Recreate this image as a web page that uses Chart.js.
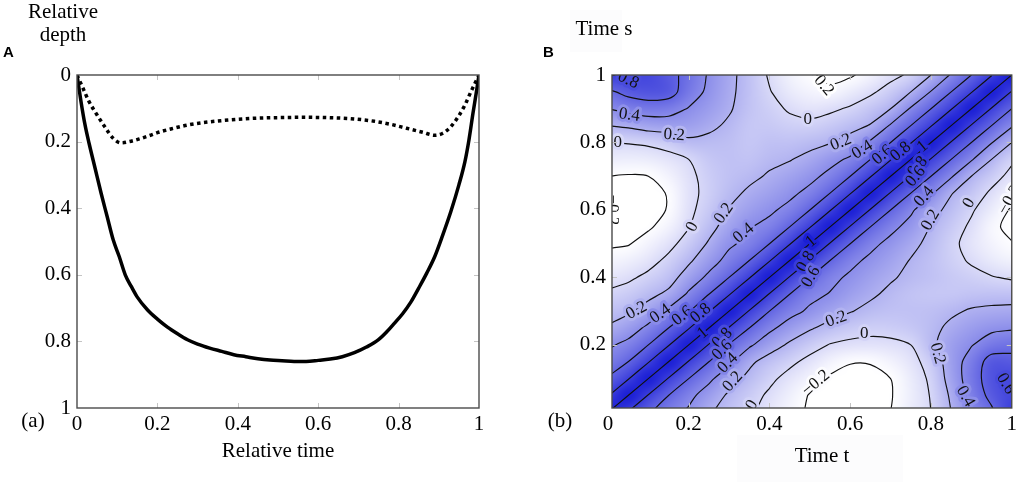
<!DOCTYPE html>
<html><head><meta charset="utf-8">
<script src="https://cdn.jsdelivr.net/npm/chart.js@4.4.1/dist/chart.umd.min.js"></script>
<style>
html,body{margin:0;padding:0;background:#fff;width:1021px;height:482px;overflow:hidden;}
#wrapA{position:absolute;left:0;top:0;width:520px;height:482px;}
#wrapB{position:absolute;left:520px;top:0;width:501px;height:482px;}
.t{position:absolute;font-family:'Liberation Serif',serif;font-size:21px;line-height:21px;color:#000;white-space:nowrap;}
.c{transform:translateX(-50%);}
.p{position:absolute;font-family:'Liberation Sans',Arial,sans-serif;font-weight:bold;font-size:15px;line-height:15px;color:#000;}
.box{position:absolute;background:#fcfcfd;}
</style></head><body>
<div class="box" style="left:570px;top:10px;width:52px;height:42px"></div>
<div class="box" style="left:737px;top:435px;width:166px;height:47px"></div>
<div id="wrapA"><canvas id="chartA" width="520" height="482"></canvas></div>
<div id="wrapB"><canvas id="chartB" width="501" height="482"></canvas></div>
<div class="p" style="left:3px;top:44px">A</div>
<div class="p" style="left:543px;top:44px">B</div>
<div class="t c" style="left:63px;top:0px;line-height:23px;text-align:center">Relative<br>depth</div>
<div class="t c" style="left:278px;top:440px">Relative time</div>
<div class="t c" style="left:33px;top:410px">(a)</div>
<div class="t c" style="left:604px;top:18px">Time s</div>
<div class="t c" style="left:822px;top:445px">Time t</div>
<div class="t c" style="left:560px;top:410px">(b)</div>
<script>
// ---------- Panel A data ----------
const solidTime  = [0,0.01,0.02,0.03,0.045,0.06,0.075,0.09,0.105,0.12,0.135,0.15,0.175,0.2,0.225,0.25,0.275,0.3,0.33,0.36,0.39,0.42,0.45,0.48,0.51,0.54,0.57,0.6,0.63,0.66,0.69,0.72,0.75,0.77,0.79,0.81,0.83,0.85,0.87,0.89,0.91,0.93,0.95,0.965,0.975,0.985,0.993,1];
const solidDepth = [0,0.08,0.15,0.205,0.28,0.355,0.425,0.495,0.545,0.6,0.635,0.667,0.705,0.733,0.757,0.777,0.795,0.808,0.82,0.83,0.84,0.846,0.852,0.856,0.858,0.86,0.86,0.857,0.853,0.846,0.834,0.817,0.795,0.772,0.745,0.717,0.683,0.64,0.595,0.545,0.48,0.41,0.33,0.26,0.195,0.115,0.055,0];
const dottedTime  = [0,0.015,0.03,0.05,0.07,0.09,0.11,0.13,0.155,0.18,0.2,0.24,0.28,0.32,0.36,0.4,0.44,0.5,0.56,0.62,0.68,0.74,0.78,0.82,0.86,0.89,0.91,0.93,0.95,0.965,0.98,0.99,1];
const dottedDepth = [0,0.04,0.08,0.12,0.157,0.19,0.204,0.2,0.192,0.182,0.173,0.16,0.149,0.142,0.137,0.133,0.13,0.128,0.127,0.128,0.131,0.139,0.148,0.16,0.172,0.181,0.175,0.155,0.122,0.09,0.05,0.025,0];
const tickValues = [0,0.2,0.4,0.6,0.8,1];
const tickValuesS = [0.2,0.4,0.6,0.8,1];

// ---------- Panel B data ----------
const gridTimes = [0,0.05,0.1,0.15,0.2,0.25,0.3,0.35,0.4,0.45,0.5,0.55,0.6,0.65,0.7,0.75,0.8,0.85,0.9,0.95,1];
// row j = time s (gridTimes[j]); entries = values for time t = gridTimes[0..j] (surface is symmetric in s,t)
const corrRows = [
 [1],
 [0.79,1],
 [0.62,0.79,1],
 [0.47,0.6,0.79,1],
 [0.37,0.45,0.6,0.79,1],
 [0.22,0.31,0.44,0.6,0.79,1],
 [0.12,0.17,0.28,0.44,0.59,0.79,1],
 [0.03,0.07,0.15,0.24,0.43,0.6,0.79,1],
 [-0.07,-0.03,0.04,0.12,0.29,0.44,0.6,0.79,1],
 [-0.15,-0.12,-0.06,0.04,0.17,0.32,0.46,0.6,0.79,1],
 [-0.22,-0.21,-0.14,-0.05,0.07,0.22,0.37,0.45,0.6,0.79,1],
 [-0.27,-0.26,-0.22,-0.14,-0.01,0.14,0.28,0.39,0.45,0.6,0.79,1],
 [-0.29,-0.29,-0.26,-0.19,-0.04,0.08,0.21,0.3,0.37,0.45,0.6,0.79,1],
 [-0.27,-0.27,-0.25,-0.19,-0.05,0.05,0.15,0.23,0.29,0.36,0.45,0.6,0.79,1],
 [-0.2,-0.21,-0.2,-0.14,-0.04,0.06,0.12,0.16,0.22,0.28,0.35,0.45,0.6,0.79,1],
 [-0.1,-0.11,-0.1,-0.06,0.0,0.09,0.12,0.11,0.16,0.19,0.25,0.34,0.43,0.6,0.79,1],
 [0.0,0.01,0.03,0.07,0.16,0.15,0.13,0.09,0.12,0.12,0.15,0.19,0.27,0.43,0.6,0.79,1],
 [0.2,0.23,0.28,0.3,0.3,0.24,0.17,0.09,0.08,0.05,0.04,0.08,0.14,0.21,0.42,0.6,0.79,1],
 [0.4,0.46,0.5,0.48,0.39,0.31,0.22,0.11,0.05,-0.02,-0.06,-0.03,0.02,0.1,0.2,0.42,0.6,0.79,1],
 [0.56,0.66,0.7,0.68,0.5,0.36,0.24,0.12,0.01,-0.09,-0.14,-0.16,-0.1,-0.03,0.07,0.2,0.41,0.6,0.79,1],
 [0.82,0.76,0.76,0.66,0.54,0.38,0.25,0.12,-0.02,-0.13,-0.19,-0.25,-0.22,-0.14,-0.05,0.03,0.2,0.42,0.6,0.79,1]
];
const contourLevels = [-0.2,0,0.2,0.4,0.6,0.8];
const ridgeLevel = 1;
// contour labels: [t, s, text, rotation deg]
const contourLabels = [
 [0.05,0.985,'0.8',25],[0.053,0.881,'0.4',8],[0.164,0.822,'0.2',4],[0.024,0.8,'0',0],
 [0.012,0.6,'\u22120.2',90],[0.209,0.55,'0',-62],[0.287,0.59,'0.2',-55],[0.336,0.531,'0.4',-40],
 [0.071,0.302,'0.2',-28],[0.13,0.292,'0.4',-35],[0.184,0.286,'0.6',-38],[0.23,0.294,'0.8',-40],
 [0.235,0.235,'1',-40],[0.283,0.22,'0.8',-45],[0.283,0.185,'0.6',-45],[0.297,0.146,'0.4',-45],
 [0.309,0.091,'0.2',-48],[0.357,0.022,'0',-60],[0.515,0.087,'\u22120.2',-40],[0.635,0.235,'0',0],
 [0.565,0.276,'0.2',-20],[0.816,0.175,'0.2',75],[0.885,0.047,'0.4',60],[0.985,0.085,'0.6',60],
 [0.503,0.506,'1',-40],[0.49,0.447,'0.8',-60],[0.503,0.402,'0.6',-60],[0.577,0.8,'0.2',-22],
 [0.63,0.778,'0.4',-32],[0.68,0.763,'0.6',-40],[0.725,0.773,'0.8',-40],[0.779,0.788,'1',-40],
 [0.767,0.728,'0.8',-50],[0.762,0.699,'0.6',-50],[0.783,0.64,'0.4',-50],[0.799,0.57,'0.2',-60],
 [0.495,0.867,'0',0],[0.527,0.98,'\u22120.2',50],[0.894,0.62,'0',-60],[0.995,0.63,'\u22120.2',-60]
];

// ---------- helpers ----------
const fmt = v => String(Math.round(v*10)/10);
const N = gridTimes.length;
const M = [];
for (let j=0;j<N;j++){ M.push([]); for (let i=0;i<N;i++) M[j].push(i<=j ? corrRows[j][i] : corrRows[i][j]); }
const VMIN=-0.2, VMAX=1.0, C1=[20,24,212];
function heatRGB(v){ const f=Math.max(0,Math.min(1,(v-VMIN)/(VMAX-VMIN))); return [0,1,2].map(k=>Math.round(255-f*(255-C1[k]))); }
function sample(t,s){
  const st=gridTimes[1]-gridTimes[0];
  let fi=Math.max(0,Math.min(N-1.0001,t/st)), fj=Math.max(0,Math.min(N-1.0001,s/st));
  const i=Math.floor(fi), j=Math.floor(fj), u=fi-i, w=fj-j;
  return M[j][i]*(1-u)*(1-w)+M[j][i+1]*u*(1-w)+M[j+1][i]*(1-u)*w+M[j+1][i+1]*u*w;
}
function traceContours(L){
  const pts={}, adj={};
  const P=(type,i,j)=>{ const k=type+i+'_'+j; if(!pts[k]){ let v1,v2,x1,x2,y1,y2;
      if(type==='h'){v1=M[j][i];v2=M[j][i+1];x1=gridTimes[i];x2=gridTimes[i+1];y1=y2=gridTimes[j];}
      else {v1=M[j][i];v2=M[j+1][i];x1=x2=gridTimes[i];y1=gridTimes[j];y2=gridTimes[j+1];}
      const f=(L-v1)/(v2-v1); pts[k]={x:x1+f*(x2-x1),y:y1+f*(y2-y1)}; } return k; };
  const link=(a,b)=>{(adj[a]=adj[a]||[]).push(b);(adj[b]=adj[b]||[]).push(a);};
  for(let j=0;j<N-1;j++) for(let i=0;i<N-1;i++){
    const a=M[j][i],b=M[j][i+1],c=M[j+1][i+1],d=M[j+1][i];
    const ia=a>=L,ib=b>=L,ic=c>=L,id=d>=L;
    const B=ia!==ib?P('h',i,j):null, R=ib!==ic?P('v',i+1,j):null, T=id!==ic?P('h',i,j+1):null, Le=ia!==id?P('v',i,j):null;
    const cr=[B,R,T,Le].filter(x=>x!==null);
    if(cr.length===2) link(cr[0],cr[1]);
    else if(cr.length===4){ const cen=(a+b+c+d)/4>=L; if(ia===cen){link(B,R);link(T,Le);} else {link(Le,B);link(R,T);} }
  }
  const used=new Set(), lines=[];
  const ek=(a,b)=>a<b?a+'|'+b:b+'|'+a;
  const free=k=>adj[k].some(nb=>!used.has(ek(k,nb)));
  const walk=s=>{ const line=[s]; let cur=s; for(;;){ let nx=null; for(const nb of adj[cur]){ const e=ek(cur,nb); if(!used.has(e)){used.add(e);nx=nb;break;} } if(nx===null)break; line.push(nx); cur=nx; } return line; };
  const keys=Object.keys(adj);
  for(const k of keys) if(adj[k].length===1 && free(k)) lines.push(walk(k));
  for(const k of keys) while(free(k)) lines.push(walk(k));
  return lines.map(l=>{ const out=[]; for(const k of l){ const p=pts[k]; const q=out[out.length-1]; if(!q||Math.hypot(p.x-q.x,p.y-q.y)>0.004) out.push({x:p.x,y:p.y}); } if(out.length===1){const p=pts[l[l.length-1]]; out.push({x:p.x,y:p.y});} return out; });
}

// ---------- plugins ----------
function innerTicks(chart, xVals, yVals){
  const {ctx, chartArea:a, scales} = chart;
  ctx.save(); ctx.strokeStyle='#c4c4c4'; ctx.lineWidth=1;
  xVals.forEach(v=>{ const px=Math.round(scales.x.getPixelForValue(v))+0.5; if(px<a.left+3||px>a.right-3) return;
    ctx.beginPath(); ctx.moveTo(px,a.top); ctx.lineTo(px,a.top+5); ctx.moveTo(px,a.bottom); ctx.lineTo(px,a.bottom-5); ctx.stroke(); });
  yVals.forEach(v=>{ const py=Math.round(scales.y.getPixelForValue(v))+0.5; if(py<a.top+3||py>a.bottom-3) return;
    ctx.beginPath(); ctx.moveTo(a.left,py); ctx.lineTo(a.left+5,py); ctx.moveTo(a.right,py); ctx.lineTo(a.right-5,py); ctx.stroke(); });
  ctx.strokeStyle='#4a4a4a'; ctx.lineWidth=1.4;
  ctx.strokeRect(a.left, a.top, a.right-a.left, a.bottom-a.top);
  ctx.restore();
}
const frameA = { id:'frameA', afterDraw(chart){ innerTicks(chart, tickValues, tickValues); } };
const frameB = { id:'frameB', afterDraw(chart){ innerTicks(chart, tickValues, tickValues); } };

const heatPlugin = { id:'heat', beforeDatasetsDraw(chart){
  const cells = chart.data.datasets[0].data;
  const xs=chart.scales.x, ys=chart.scales.y, a=chart.chartArea, ctx=chart.ctx;
  const off=document.createElement('canvas'); off.width=N+2; off.height=N+2;
  const octx=off.getContext('2d'); const img=octx.createImageData(N+2,N+2);
  for(let jj=0;jj<N+2;jj++) for(let ii=0;ii<N+2;ii++){
    const i=Math.max(0,Math.min(N-1,ii-1)), j=Math.max(0,Math.min(N-1,N-jj));
    const rgb=heatRGB(cells[j*N+i].v); const o=(jj*(N+2)+ii)*4;
    img.data[o]=rgb[0]; img.data[o+1]=rgb[1]; img.data[o+2]=rgb[2]; img.data[o+3]=255;
  }
  octx.putImageData(img,0,0);
  const x0=xs.getPixelForValue(gridTimes[0]), x1=xs.getPixelForValue(gridTimes[N-1]);
  const y0=ys.getPixelForValue(gridTimes[0]), y1=ys.getPixelForValue(gridTimes[N-1]);
  const cw=(x1-x0)/(N-1), ch=(y0-y1)/(N-1);
  ctx.save(); ctx.beginPath(); ctx.rect(a.left,a.top,a.right-a.left,a.bottom-a.top); ctx.clip();
  ctx.imageSmoothingEnabled=true; ctx.imageSmoothingQuality='high';
  ctx.drawImage(off, x0-1.5*cw, y1-1.5*ch, (N+2)*cw, (N+2)*ch);
  ctx.restore();
}};
const labelPlugin = { id:'clabels', afterDatasetsDraw(chart){
  const xs=chart.scales.x, ys=chart.scales.y, a=chart.chartArea, ctx=chart.ctx;
  ctx.save(); ctx.beginPath(); ctx.rect(a.left,a.top,a.right-a.left,a.bottom-a.top); ctx.clip();
  ctx.font="17px 'Liberation Serif'"; ctx.textAlign='center'; ctx.textBaseline='middle'; ctx.lineJoin='round';
  contourLabels.forEach(([t,s,txt,ang])=>{
    const px=xs.getPixelForValue(t), py=ys.getPixelForValue(s);
    const rgb=heatRGB(sample(t,s));
    ctx.save(); ctx.translate(px,py); ctx.rotate(ang*Math.PI/180);
    ctx.lineWidth=6; ctx.strokeStyle='rgb('+rgb.join(',')+')'; ctx.strokeText(txt,0,0);
    ctx.fillStyle='#111'; ctx.fillText(txt,0,0); ctx.restore();
  });
  ctx.restore();
}};

Chart.defaults.font.family="'Liberation Serif', serif";

// ---------- Chart A ----------
const serifTicks = {font:{family:"'Liberation Serif', serif", size:21}, color:'#000', autoSkip:false, maxRotation:0, callback:v=>fmt(v)};
new Chart(document.getElementById('chartA'), {
  type:'scatter',
  data:{datasets:[
    {label:'Mean depth', data:solidTime.map((t,i)=>({x:t,y:solidDepth[i]})), showLine:true, borderColor:'#000', borderWidth:3.5, pointRadius:0, cubicInterpolationMode:'monotone', borderJoinStyle:'round'},
    {label:'Std. deviation', data:dottedTime.map((t,i)=>({x:t,y:dottedDepth[i]})), showLine:true, borderColor:'#000', borderWidth:3.5, borderDash:[3.5,3.5], borderCapStyle:'butt', pointRadius:0, cubicInterpolationMode:'monotone'}
  ]},
  options:{
    responsive:false, animation:false, events:[],
    layout:{padding:{left:0,right:41,top:75,bottom:0}},
    plugins:{legend:{display:false}, tooltip:{enabled:false}},
    scales:{
      x:{type:'linear', min:0, max:1, afterBuildTicks:s=>{s.ticks=tickValues.map(v=>({value:v}));}, afterFit:s=>{s.height=74;},
         grid:{display:false, drawTicks:false}, border:{display:false}, ticks:Object.assign({padding:4}, serifTicks)},
      y:{type:'linear', reverse:true, min:0, max:1, afterBuildTicks:s=>{s.ticks=tickValues.map(v=>({value:v}));}, afterFit:s=>{s.width=77;},
         grid:{display:false, drawTicks:false}, border:{display:false}, ticks:Object.assign({padding:6}, serifTicks)}
    }
  },
  plugins:[frameA]
});

// ---------- Chart B ----------
const heatCells=[];
for(let j=0;j<N;j++) for(let i=0;i<N;i++) heatCells.push({x:gridTimes[i], y:gridTimes[j], v:M[j][i]});
const contourSets=[];
contourLevels.forEach(L=>{ traceContours(L).forEach(line=>{ contourSets.push({label:'level '+L, data:line, showLine:true, borderColor:'#111', borderWidth:1.15, pointRadius:0, tension:0.3, borderJoinStyle:'round', borderCapStyle:'round'}); }); });
const ridge=[]; for(let i=0;i<N;i++){ if(M[i][i]>=ridgeLevel) ridge.push({x:gridTimes[i], y:gridTimes[i]}); }
contourSets.push({label:'level 1', data:ridge, showLine:true, borderColor:'#111', borderWidth:1.15, pointRadius:0, tension:0});

new Chart(document.getElementById('chartB'), {
  type:'scatter',
  data:{datasets:[{label:'surface', data:heatCells, pointRadius:0, showLine:false}].concat(contourSets)},
  options:{
    responsive:false, animation:false, events:[],
    layout:{padding:{left:0,right:8,top:75,bottom:0}},
    plugins:{legend:{display:false}, tooltip:{enabled:false}},
    scales:{
      x:{type:'linear', min:0.01, max:1, afterBuildTicks:s=>{s.ticks=tickValues.map(v=>({value:v}));}, afterFit:s=>{s.height=74;},
         grid:{display:false, drawTicks:false}, border:{display:false}, ticks:Object.assign({padding:4}, serifTicks)},
      y:{type:'linear', min:0.013, max:1, afterBuildTicks:s=>{s.ticks=tickValuesS.map(v=>({value:v}));}, afterFit:s=>{s.width=92;},
         grid:{display:false, drawTicks:false}, border:{display:false}, ticks:Object.assign({padding:6}, serifTicks)}
    }
  },
  plugins:[heatPlugin, labelPlugin, frameB]
});
</script>
</body></html>
